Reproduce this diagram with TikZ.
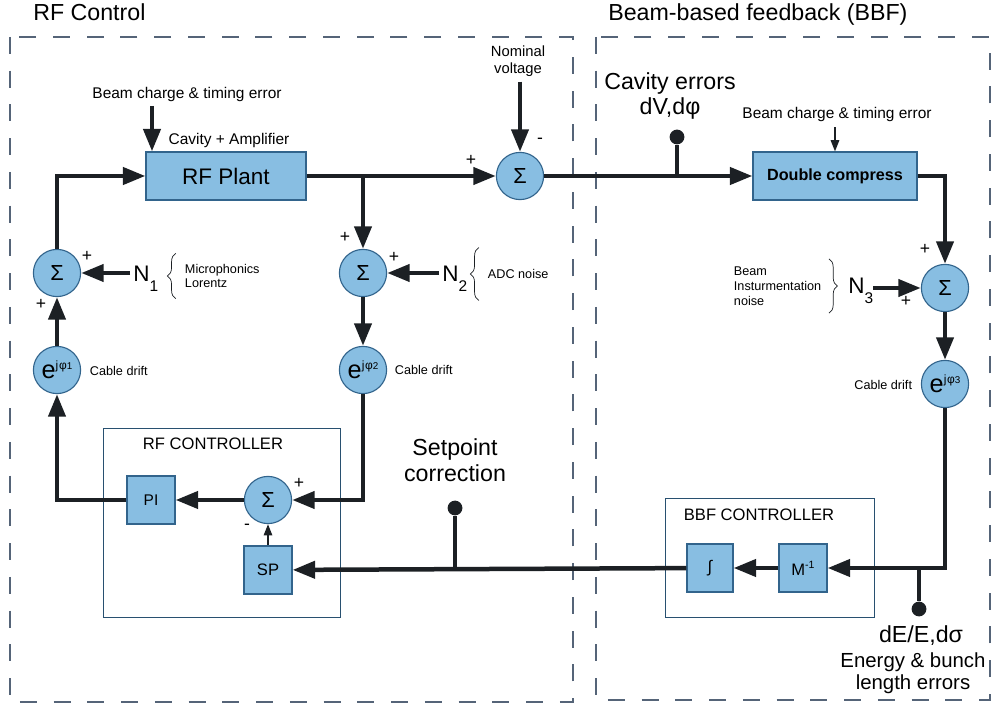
\documentclass[tikz,border=0pt]{standalone}
\usepackage{fontspec}
\setmainfont{Liberation Sans}
\usetikzlibrary{arrows.meta, decorations.pathreplacing}
\definecolor{blockblue}{RGB}{136,190,226}
\definecolor{blockedge}{RGB}{50,100,140}
\definecolor{framegray}{RGB}{85,100,120}
\definecolor{wiredark}{RGB}{28,32,36}
\newcommand{\ejphi}[1]{{\fontsize{18}{18}\selectfont e}\raisebox{6.5pt}{\fontsize{8.5}{8.5}\selectfont j\kern0.5pt φ\fontsize{7}{7}\selectfont #1}}
\newcommand{\nsub}[1]{N\raisebox{-7pt}{\fontsize{11}{11}\selectfont #1}}
\tikzset{
    block/.style={draw=blockedge, fill=blockblue, line width=0.8pt, inner sep=0pt},
    sumnode/.style={circle, draw=blockedge, fill=blockblue, line width=0.8pt, minimum size=1.18cm, inner sep=0pt, font=\fontsize{15.5}{15.5}\selectfont},
    wire/.style={draw=wiredark, line width=3.2pt},
    sig/.style={wire, -{Triangle[length=16pt, width=12pt]}},
    thinsig/.style={draw=wiredark, line width=1.1pt, -{Triangle[length=8pt, width=6pt]}},
    panel/.style={draw=framegray, line width=0.9pt, dash pattern=on 12pt off 12pt},
    ctrlbox/.style={draw=blockedge!80!black, line width=0.7pt, inner sep=0pt},
    sign/.style={font=\fontsize{12.5}{12.5}\selectfont, inner sep=0pt},
    dotend/.style={circle, fill=wiredark, minimum size=0.37cm, inner sep=0pt},
    curly/.style={decorate, decoration={brace, amplitude=6pt}, draw=wiredark, line width=0.5pt},
    headtxt/.style={font=\fontsize{16.5}{18.5}\selectfont},
    bigtxt/.style={font=\fontsize{16}{16}\selectfont},
    midtxt/.style={font=\fontsize{11}{13}\selectfont},
    smalltxt/.style={font=\fontsize{9}{10.6}\selectfont},
    ctrltxt/.style={font=\fontsize{11.8}{13}\selectfont},
}
\begin{document}
\begin{tikzpicture}[x=0.025cm, y=-0.025cm]
    \useasboundingbox (0,0) rectangle (992,707);
    % Panels
    \draw[panel] (10,37) rectangle (573,702);
    \draw[panel] (596,37) rectangle (990,700);
    \node[headtxt, anchor=base west, inner sep=0pt] (rftitle) at (33,21) {RF Control};
    \node[headtxt, anchor=base west, inner sep=0pt] (bbftitle) at (608,21) {Beam-based feedback (BBF)};
    % Controllers
    \node[ctrlbox, minimum width=5.9cm, minimum height=4.725cm] (rfctrl) at (222,523) {};
    \node[ctrltxt] (rfctrllbl) at (213,444) {RF CONTROLLER};
    \node[ctrlbox, minimum width=5.225cm, minimum height=2.975cm] (bbfctrl) at (770,558) {};
    \node[ctrltxt] (bbfctrllbl) at (759,515) {BBF CONTROLLER};
    % RF side
    \node[block, bigtxt, minimum width=4cm, minimum height=1.2cm] (plant) at (226,176) {RF Plant};
    \node[midtxt] (plantlbl) at (229,141) {Cavity + Amplifier};
    \node[midtxt] (beamlbl) at (187,95) {Beam charge \& timing error};
    \coordinate (beamin) at (152,106);
    \node[sumnode] (sum1) at (57,273) {Σ};
    \node[sumnode] (ph1) at (57,370) {\ejphi{1}};
    \node[smalltxt, anchor=west] (drift1) at (85,371) {Cable drift};
    \node[bigtxt, anchor=base west, inner sep=0pt] (n1) at (133,282) {\nsub{1}};
    \node[smalltxt, anchor=west, align=left] (mic) at (180,276) {Microphonics\\Lorentz};
    \node[sumnode] (sum2) at (363,273) {Σ};
    \node[sumnode] (ph2) at (363,370) {\ejphi{2}};
    \node[smalltxt, anchor=west] (drift2) at (390,370) {Cable drift};
    \node[bigtxt, anchor=base west, inner sep=0pt] (n2) at (442,282) {\nsub{2}};
    \node[smalltxt, anchor=west] (adc) at (483,274) {ADC noise};
    \node[sumnode] (sum3) at (520,176) {Σ};
    \node[font=\fontsize{10.5}{12.5}\selectfont, align=center] (nomv) at (518,61) {Nominal\\voltage};
    \node[block, midtxt, minimum size=1.2cm] (pi) at (151,500) {PI};
    \node[sumnode] (sumc) at (268,500) {Σ};
    \node[block, ctrltxt, minimum size=1.2cm] (sp) at (268,570) {SP};
    \node[headtxt, align=center] (spcorr) at (455,460) {Setpoint\\correction};
    \node[dotend] (spdot) at (455,508) {};
    \coordinate (sptap) at (455,570);
    % BBF side
    \node[headtxt, align=center, font=\fontsize{16.5}{17.7}\selectfont] (caverr) at (670,96) {Cavity errors\\dV,dφ};
    \node[dotend] (cavdot) at (677,137) {};
    \coordinate (cavtap) at (677,176);
    \node[block, font=\fontsize{11.5}{11.5}\selectfont\bfseries, minimum width=4.1cm, minimum height=1.2cm] (dc) at (835,176) {Double compress};
    \node[midtxt] (beamlbl2) at (837,115) {Beam charge \& timing error};
    \node[sumnode] (sum4) at (945,288) {Σ};
    \node[sumnode] (ph3) at (945,384) {\ejphi{3}};
    \node[smalltxt, anchor=east] (drift3) at (917,385) {Cable drift};
    \node[bigtxt, anchor=base west, inner sep=0pt] (n3) at (848,294) {\nsub{3}};
    \node[smalltxt, anchor=west, align=left] (instr) at (729,286) {Beam\\Insturmentation\\noise};
    \node[block, ctrltxt, minimum width=1.15cm, minimum height=1.2cm] (integ) at (710,568) {∫};
    \node[block, ctrltxt, minimum width=1.2cm, minimum height=1.2cm] (minv) at (803,568) {M\raisebox{5pt}{\fontsize{7.5}{7.5}\selectfont -1}};
    \coordinate (detap) at (919,568);
    \node[dotend] (dedot) at (919,609) {};
    \node[headtxt] (delbl) at (921,636) {dE/E,dσ};
    \node[font=\fontsize{14.5}{15.6}\selectfont, align=center] (errlbl) at (913,673) {Energy \& bunch\\length errors};
    % Signs
    \node[sign] (s1a) at (87,256) {+};
    \node[sign] (s1b) at (41,304) {+};
    \node[sign] (s2a) at (345,237) {+};
    \node[sign] (s2b) at (394,257) {+};
    \node[sign] (s3a) at (471,160) {+};
    \node[sign] (s3b) at (540,141) {-};
    \node[sign] (sca) at (299,483) {+};
    \node[sign] (scb) at (247,527) {-};
    \node[sign] (s4a) at (925,249) {+};
    \node[sign] (s4b) at (906,301) {+};
    % Braces
    \draw[curly] ([shift={(-3pt,-4pt)}]mic.south west) -- ([shift={(-3pt,4pt)}]mic.north west);
    \draw[curly] ([shift={(-3pt,-12pt)}]adc.south west) -- ([shift={(-3pt,12pt)}]adc.north west);
    \draw[curly] ([shift={(2pt,2pt)}]instr.north east) -- ([shift={(2pt,-2pt)}]instr.south east);
    % Forward path
    \draw[sig] (beamin) -- (beamin |- plant.north);
    \draw[sig] (sum1) |- (plant);
    \draw[sig] (plant) -- (sum3);
    \draw[sig] (nomv.south -| sum3) -- (sum3);
    \draw[sig] (sum3) -- (dc);
    \draw[wire] (cavtap) -- (cavdot);
    \draw[thinsig] (beamlbl2.south -| dc) -- (dc);
    % RF loop
    \draw[sig] (sum2 |- plant.east) -- (sum2);
    \draw[sig] ([xshift=-2pt]n1.west |- sum1) -- (sum1);
    \draw[sig] (ph1) -- (sum1);
    \draw[sig] (pi) -| (ph1);
    \draw[sig] ([xshift=-2pt]n2.west |- sum2) -- (sum2);
    \draw[sig] (sum2) -- (ph2);
    \draw[sig] (ph2) |- (sumc);
    \draw[sig] (sumc) -- (pi);
    \draw[thinsig] (sp) -- (sumc);
    % BBF loop
    \draw[sig] (dc) -| (sum4);
    \draw[sig] (n3.east |- sum4) -- (sum4);
    \draw[sig] (sum4) -- (ph3);
    \draw[sig] (ph3) |- (minv);
    \draw[sig] (minv) -- (integ);
    \draw[sig] (integ) -- (sp);
    \draw[wire] (sptap) -- (spdot);
    \draw[wire] (detap) -- (dedot);
\end{tikzpicture}
\end{document}
